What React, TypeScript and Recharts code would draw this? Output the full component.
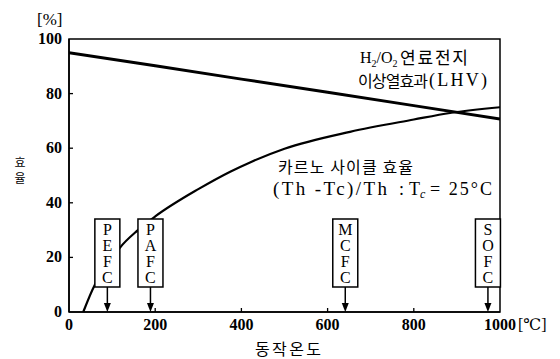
import { LineChart, Line, XAxis, YAxis, ReferenceArea, ReferenceDot } from 'recharts';

const xTicks = [0, 200, 400, 600, 800, 1000];
const yTicks = [0, 20, 40, 60, 80, 100];

// H2/O2 ideal efficiency (LHV) vs operating temperature
const idealTemp = [0, 200, 400, 600, 800, 1000];
const idealEff = [95, 90.2, 85.3, 80.5, 75.6, 70.7];

// Carnot efficiency
const carnotTemp = [33, 60, 90, 118, 160, 200, 300, 374, 420, 500, 652, 800, 884, 1000];
const carnotEff = [0, 10, 17, 23.5, 30, 35, 45, 51.4, 54.8, 59.8, 66, 70.5, 72.9, 75];

const cellNames = ['PEFC', 'PAFC', 'MCFC', 'SOFC'];
const cellTemps = [89, 189, 641, 972];

const idealData = idealTemp.map((t, i) => ({ t, v: idealEff[i] }));
const carnotData = carnotTemp.map((t, i) => ({ t, v: carnotEff[i] }));

const SERIF = '"Liberation Serif", "DejaVu Serif", serif';
const KR = '"Noto Sans CJK KR", sans-serif';

function XTick({ x, y, payload }: any) {
  const v = payload.value;
  return (
    <g>
      {v > 0 && v < 1000 && <line x1={x} x2={x} y1={y} y2={y - 4} stroke="#000" strokeWidth={1.3} />}
      <text x={x} y={y + 18} textAnchor="middle" fontFamily={SERIF} fontWeight="bold" fontSize={16} fill="#000">
        {v}
      </text>
    </g>
  );
}

function YTick({ x, y, payload }: any) {
  const v = payload.value;
  return (
    <g>
      {v > 0 && v < 100 && <line x1={x} x2={x + 4} y1={y} y2={y} stroke="#000" strokeWidth={1.3} />}
      <text x={x - 7} y={y + 5} textAnchor="end" fontFamily={SERIF} fontWeight="bold" fontSize={16} fill="#000">
        {v}
      </text>
    </g>
  );
}

function CellBox(name: string) {
  return ({ cx, cy }: any) => (
    <g>
      <line x1={cx} x2={cx} y1={cy - 25} y2={cy - 7} stroke="#000" strokeWidth={1.5} />
      <path d={`M${cx - 3.5},${cy - 9} L${cx + 3.5},${cy - 9} L${cx},${cy} Z`} fill="#000" />
      <rect x={cx - 12.5} y={cy - 93} width={25} height={68} fill="#fff" stroke="#000" strokeWidth={1.5} />
      {name.split('').map((ch, i) => (
        <text key={i} x={cx} y={cy - 77 + i * 16} textAnchor="middle" fontFamily={SERIF} fontSize={16} fill="#000">
          {ch}
        </text>
      ))}
    </g>
  );
}

export default function App() {
  return (
    <div style={{ position: 'absolute', left: 0, top: 0, width: 560, height: 359, background: '#fff' }}>
      <LineChart width={560} height={359} margin={{ top: 39, right: 60, bottom: 17, left: 9 }}>
        <XAxis
          type="number"
          dataKey="t"
          domain={[0, 1000]}
          ticks={xTicks}
          tick={<XTick />}
          tickSize={0}
          tickMargin={0}
          tickLine={false}
          height={30}
          axisLine={{ stroke: '#000', strokeWidth: 1.5 }}
          allowDataOverflow
        />
        <YAxis
          type="number"
          domain={[0, 100]}
          ticks={yTicks}
          tick={<YTick />}
          tickSize={0}
          tickMargin={0}
          tickLine={false}
          width={60}
          axisLine={{ stroke: '#000', strokeWidth: 1.5 }}
        />
        <ReferenceArea x1={0} x2={1000} y1={0} y2={100} fill="none" stroke="#000" strokeWidth={1.5} fillOpacity={0} />
        <Line data={idealData} dataKey="v" type="linear" stroke="#000" strokeWidth={3} dot={false} isAnimationActive={false} />
        <Line data={carnotData} dataKey="v" type="monotone" stroke="#000" strokeWidth={2.2} dot={false} isAnimationActive={false} />
        {cellNames.map((n, i) => (
          <ReferenceDot key={n} x={cellTemps[i]} y={0} r={0} shape={CellBox(n)} ifOverflow="visible" />
        ))}
      </LineChart>
      <svg width={560} height={359} style={{ position: 'absolute', left: 0, top: 0, pointerEvents: 'none' }}>
        <text x={37} y={25} fontFamily={SERIF} fontSize={17} fill="#000">[%]</text>
        <text x={20} y={167} textAnchor="middle" fontFamily={KR} fontSize={12} fill="#000">효</text>
        <text x={20} y={183} textAnchor="middle" fontFamily={KR} fontSize={12} fill="#000">율</text>
        <text x={255} y={355} fontFamily={KR} fontSize={16} textLength={66} lengthAdjust="spacing" fill="#000">동작온도</text>
        <text x={518} y={330} fontFamily={SERIF} fontSize={16} fill="#000">[℃]</text>
        <text x={360} y={63} fontFamily={SERIF} fontSize={16} fill="#000">
          H<tspan dy={4} fontSize={10}>2</tspan>
          <tspan dy={-4}>/O</tspan>
          <tspan dy={4} fontSize={10}>2</tspan>
        </text>
        <text x={400} y={64} fontFamily={KR} fontSize={17} textLength={68} lengthAdjust="spacing" fill="#000">연료전지</text>
        <text x={358} y={87} fontFamily={KR} fontSize={16} textLength={70} lengthAdjust="spacing" fill="#000">이상열효과</text>
        <text x={429} y={86} fontFamily={SERIF} fontSize={18} textLength={58} lengthAdjust="spacing" fill="#000">(LHV)</text>
        <text x={278} y={173} fontFamily={KR} fontSize={16} textLength={135} lengthAdjust="spacing" fill="#000">카르노 사이클 효율</text>
        <text x={273} y={195} fontFamily={SERIF} fontSize={19} textLength={114} lengthAdjust="spacing" fill="#000">(Th -Tc)/Th</text>
        <text x={399} y={195} fontFamily={SERIF} fontSize={18} fill="#000">:</text>
        <text x={409} y={195} fontFamily={SERIF} fontSize={18} fill="#000">
          T<tspan dy={3} fontSize={12} fontStyle="italic">c</tspan>
        </text>
        <text x={430} y={195} fontFamily={SERIF} fontSize={18} textLength={62} lengthAdjust="spacing" fill="#000">= 25°C</text>
      </svg>
    </div>
  );
}
